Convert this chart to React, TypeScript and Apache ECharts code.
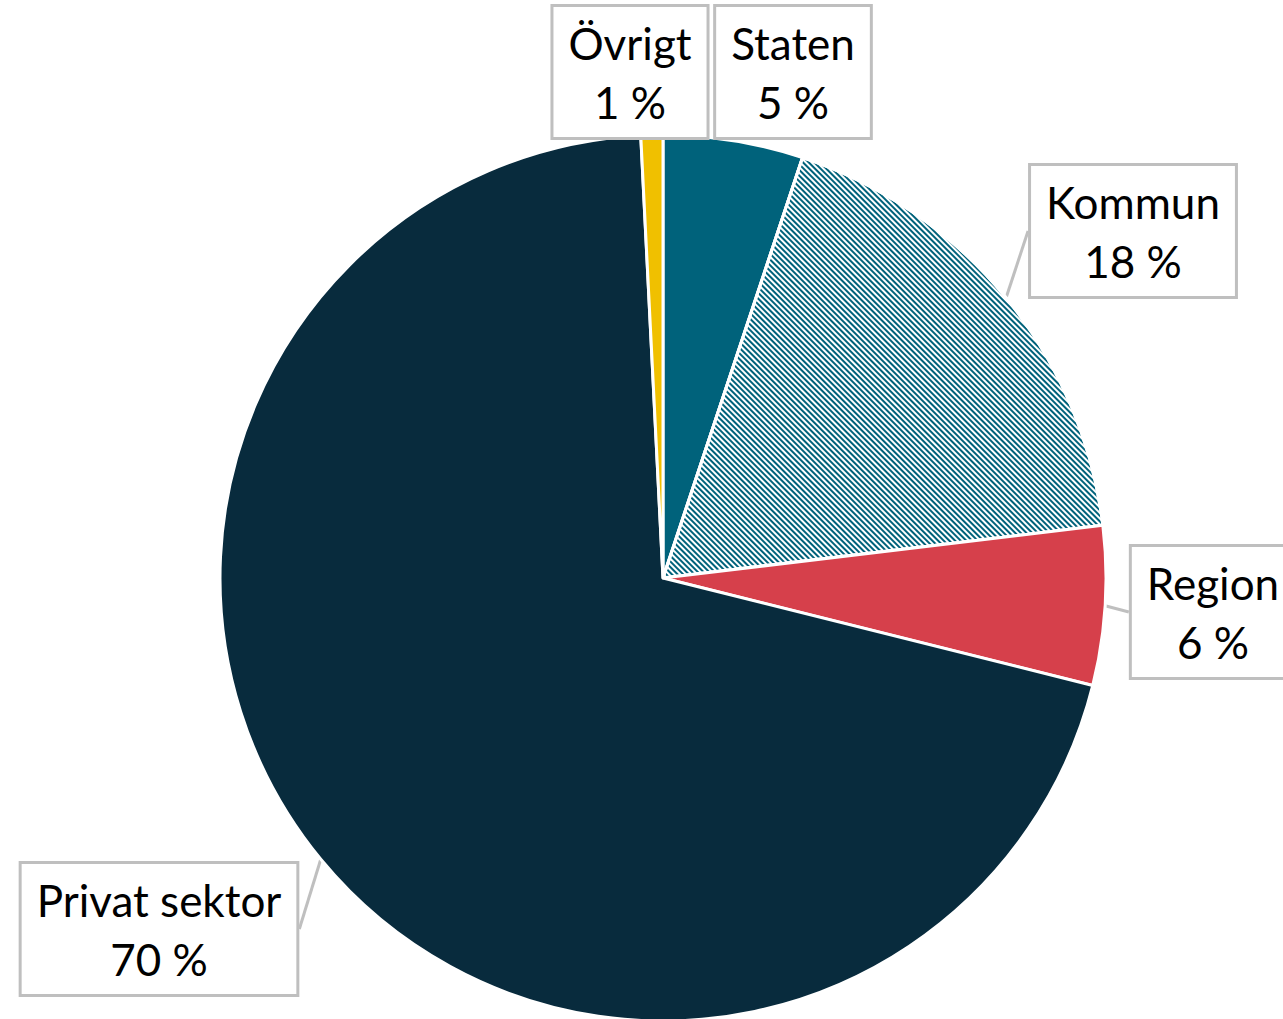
import React, { useEffect, useRef } from "react";
import * as echarts from "echarts";

const CATEGORIES = ["Staten", "Kommun", "Region", "Privat sektor", "Övrigt"];
const VALUES = [5.1, 18.0, 5.8, 70.3, 0.8];
const COLORS = ["#00627B", "#00627B", "#D6404B", "#082B3D", "#F0C000"];
const HATCHED = [false, true, false, false, false];
const SHOW_POINTER = [false, true, true, true, false];
// label box centres (layout, not data)
const LABEL_POS: [number, number][] = [
  [793, 72],
  [1133, 231],
  [1213, 612],
  [159, 929],
  [630, 72],
];

export default function App() {
  const ref = useRef<HTMLDivElement>(null);
  useEffect(() => {
    document.body.style.margin = "0";
    const chart = echarts.init(ref.current!, null, { renderer: "svg" });
    chart.setOption({
      animation: false,
      backgroundColor: "#ffffff",
      series: [
        {
          type: "pie",
          center: [663, 578],
          radius: 443,
          startAngle: 90,
          clockwise: true,
          avoidLabelOverlap: false,
          itemStyle: { borderColor: "#ffffff", borderWidth: 3 },
          label: {
            show: true,
            position: "outside",
            formatter: (p: any) => `${p.name}\n${Math.round(p.value)} %`,
            fontFamily: "Lato",
            fontSize: 44,
            lineHeight: 59,
            color: "#000000",
            align: "center",
            backgroundColor: "#ffffff",
            borderColor: "#BFBFBF",
            borderWidth: 3,
            padding: [6, 15, 6, 15],
          },
          labelLine: {
            show: true,
            length: 10,
            length2: 0,
            lineStyle: { color: "#BFBFBF", width: 3 },
          },
          labelLayout: (params: any) => {
            const pos = LABEL_POS[params.dataIndex];
            return {
              x: pos[0],
              y: pos[1],
              align: "center",
              verticalAlign: "middle",
            };
          },
          emphasis: { disabled: true },
          data: CATEGORIES.map((name, i) => ({
            name,
            value: VALUES[i],
            itemStyle: HATCHED[i]
              ? {
                  color: COLORS[i],
                  decal: {
                    symbol: "rect",
                    symbolSize: 1,
                    color: "#ffffff",
                    dashArrayX: [1, 0],
                    dashArrayY: [1.5, 1.5],
                    rotation: Math.PI / 4,
                  },
                }
              : { color: COLORS[i] },
            labelLine: { show: SHOW_POINTER[i] },
          })),
        },
      ],
    });
    return () => chart.dispose();
  }, []);
  return <div ref={ref} style={{ width: 1283, height: 1019 }} />;
}
